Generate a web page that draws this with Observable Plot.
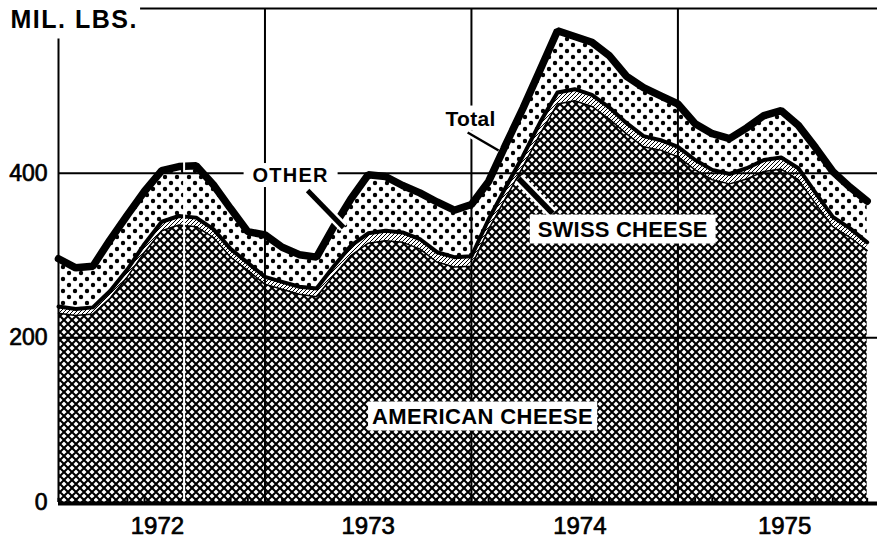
<!DOCTYPE html>
<html><head><meta charset="utf-8">
<script src="https://cdn.jsdelivr.net/npm/d3@7"></script>
<script src="https://cdn.jsdelivr.net/npm/@observablehq/plot@0.6"></script>
<style>
html,body{margin:0;padding:0;background:#fff;}
#chart{width:877px;height:544px;}
</style></head><body>
<svg width="0" height="0" style="position:absolute">
<defs>
<pattern id="xhatch" patternUnits="userSpaceOnUse" width="8" height="8">
<rect width="8" height="8" fill="#fff"/>
<path d="M0,0L8,8M8,0L0,8" stroke="#000" stroke-width="2.1"/>
</pattern>
<pattern id="dots" patternUnits="userSpaceOnUse" width="12" height="12">
<rect width="12" height="12" fill="#fff"/>
<circle cx="3" cy="3" r="2.2" fill="#000"/>
<circle cx="9" cy="9" r="2.2" fill="#000"/>
</pattern>
<pattern id="diag" patternUnits="userSpaceOnUse" width="4" height="4">
<rect width="4" height="4" fill="#fff"/>
<path d="M-1,1L1,-1M0,4L4,0M3,5L5,3" stroke="#000" stroke-width="1"/>
</pattern>
</defs></svg>
<div id="chart"></div>
<script>
// monthly index: 0 = Jan 1972 ... 47 = Dec 1975
const months = d3.range(48);
const american = [230, 227, 229, 248, 274, 304, 330, 337, 335, 322, 298, 282,
                  265, 259, 253, 250, 276, 300, 315, 318, 316, 308, 292, 286,
                  287, 332, 370, 408, 448, 484, 488, 481, 466, 448, 432, 428,
                  420, 404, 392, 387, 393, 402, 405, 392, 363, 335, 322, 306];
const swiss = [8, 8, 8, 9, 9, 10, 11, 11, 11, 10, 10, 9,
               9, 9, 9, 10, 11, 12, 12, 12, 12, 12, 12, 12,
               12, 12, 13, 13, 14, 14, 14, 14, 14, 13, 13, 12,
               12, 12, 12, 12, 13, 14, 14, 14, 13, 12, 11, 10];
const total = [296, 285, 287, 319, 349, 378, 403, 408, 409, 386, 357, 329,
               325, 310, 301, 298, 335, 369, 398, 396, 385, 376, 365, 355,
               362, 390, 435, 479, 526, 573, 566, 559, 543, 518, 504, 494,
               484, 460, 448, 442, 455, 470, 476, 458, 431, 402, 383, 366];

const yearLabels = ["1972", "1973", "1974", "1975"];
const yearLabelPos = [5.75, 18, 30.3, 42.2];
const yearBounds = [12, 24, 36];
const yTicks = [0, 200, 400];
const gridY = [200, 400];

const seriesLabels = [
  {text: "OTHER", k: 13.49, v: 397, size: 20, ls: 1.2},
  {text: "Total", k: 23.95, v: 466, size: 21, ls: 0.3},
  {text: "SWISS CHEESE", k: 32.79, v: 331.6, size: 22, ls: 0.2},
  {text: "AMERICAN CHEESE", k: 24.65, v: 104.5, size: 22, ls: 0.4}
];
const pointers = [
  {k1: 14.48, v1: 379, k2: 16.57, v2: 334, w: 5},
  {k1: 23.78, v1: 449.4, k2: 25.58, v2: 427.5, w: 2.5},
  {k1: 26.74, v1: 393.5, k2: 28.72, v2: 351, w: 5.5}
];
const whiteLine = [{k: 7.3, top: 416}];

const rows = months.map((k, i) => ({k, amer: american[i], as: american[i] + swiss[i], total: total[i]}));

const chart = Plot.plot({
  width: 877, height: 544,
  marginLeft: 58, marginRight: 0, marginTop: 8, marginBottom: 42,
  x: {domain: [0, 47.6], axis: null},
  y: {domain: [0, 600], axis: null},
  style: {fontFamily: "'Liberation Sans', Arial, sans-serif", background: "white", color: "#000", overflow: "visible"},
  marks: [
    Plot.areaY(rows, {x: "k", y1: 0, y2: "amer", fill: "url(#xhatch)"}),
    Plot.areaY(rows, {x: "k", y1: "amer", y2: "as", fill: "url(#diag)"}),
    Plot.areaY(rows, {x: "k", y1: "as", y2: "total", fill: "url(#dots)"}),
    Plot.lineY(rows, {x: "k", y: "amer", stroke: "#000", strokeWidth: 1.5}),
    Plot.lineY(rows, {x: "k", y: "as", stroke: "#000", strokeWidth: 4}),
    Plot.lineY(rows, {x: "k", y: "total", stroke: "#000", strokeWidth: 7.5, strokeLinejoin: "miter"}),
    Plot.ruleX(whiteLine, {x: "k", y1: 0, y2: "top", stroke: "white", strokeWidth: 2}),
    Plot.ruleY(gridY, {stroke: "#000", strokeWidth: 2}),
    Plot.ruleX(yearBounds, {y1: 0, y2: 600, stroke: "#000", strokeWidth: 2}),
    Plot.ruleY([600], {x1: 4.77, x2: 47.6, stroke: "#000", strokeWidth: 2}),
    Plot.ruleX([0], {y1: 0, y2: 563, stroke: "#000", strokeWidth: 2}),
    Plot.ruleX(months, {y1: 0, y2: 5, stroke: "#000", strokeWidth: 2}),
    Plot.ruleY([0], {stroke: "#000", strokeWidth: 4, dy: 1}),
    Plot.link(pointers, {x1: "k1", y1: "v1", x2: "k2", y2: "v2", stroke: "white", strokeWidth: d => d.w + 5}),
    Plot.link(pointers, {x1: "k1", y1: "v1", x2: "k2", y2: "v2", stroke: "#000", strokeWidth: "w"}),
    Plot.text(yTicks, {x: 0, y: d => d, text: d => String(d), textAnchor: "end", dx: -11, fontSize: 23, fill: "#000", stroke: "#000", strokeWidth: 0.7}),
    Plot.text(yearLabels, {x: (d, i) => yearLabelPos[i], y: 0, dy: 24, text: d => d, fontSize: 24, fill: "#000", stroke: "#000", strokeWidth: 0.7}),
    Plot.text(["MIL. LBS."], {frameAnchor: "top-left", dx: -48, dy: 2, lineAnchor: "top", textAnchor: "start", text: d => d, fontSize: 25, fontWeight: "bold", fill: "#000"}),
    Plot.text(seriesLabels, {x: "k", y: "v", text: "text", fontSize: "size", fontWeight: "bold", fill: "#000"})
  ]
});
document.getElementById("chart").append(chart);

const svg = chart.tagName.toLowerCase() === "svg" ? chart : chart.querySelector("svg");
const pads = {"OTHER": [9, 3], "Total": [4, 3], "SWISS CHEESE": [8, 4], "AMERICAN CHEESE": [4, 4]};
svg.querySelectorAll("text").forEach(t => {
  const key = t.textContent;
  const lab = seriesLabels.find(s => s.text === key);
  if (lab) t.style.letterSpacing = lab.ls + "px";
  if (key === "MIL. LBS.") t.style.letterSpacing = "1.5px";
  if (pads[key]) {
    const b = t.getBBox();
    const [px, py] = pads[key];
    const r = document.createElementNS("http://www.w3.org/2000/svg", "rect");
    r.setAttribute("x", b.x - px);
    r.setAttribute("y", b.y + 2 - py);
    r.setAttribute("width", b.width + 2 * px);
    r.setAttribute("height", b.height - 4 + 2 * py);
    r.setAttribute("fill", "white");
    if (t.getAttribute("transform")) r.setAttribute("transform", t.getAttribute("transform"));
    t.parentNode.insertBefore(r, t);
  }
});
</script>
</body></html>
